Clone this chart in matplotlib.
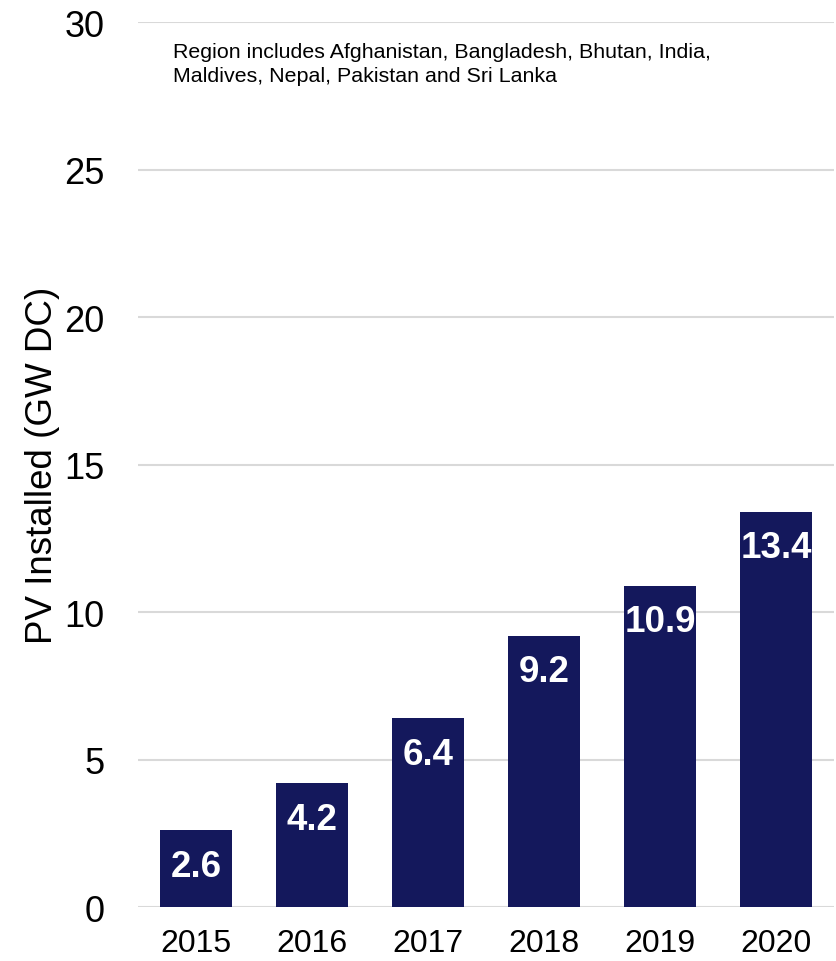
import matplotlib.pyplot as plt

plt.rcParams['font.family'] = ['Liberation Sans', 'DejaVu Sans']

years = ['2015', '2016', '2017', '2018', '2019', '2020']
installed = [2.6, 4.2, 6.4, 9.2, 10.9, 13.4]
yticks = [0, 5, 10, 15, 20, 25, 30]

fig = plt.figure(figsize=(8.36, 9.62), dpi=100)
ax = fig.add_axes([0.165, 0.056, 0.833, 0.92])

bars = ax.bar(range(len(years)), installed, width=0.62, color='#14185c', zorder=3)
for i, v in enumerate(installed):
    ax.annotate(f'{v:.1f}', (i, v), xytext=(0, -26), textcoords='offset points',
                ha='center', va='center', color='white', fontsize=26.5,
                fontweight='bold', zorder=4)

ax.set_xlim(-0.5, len(years) - 0.5)
ax.set_ylim(0, 30)
ax.set_xticks(range(len(years)))
ax.set_xticklabels(years)
ax.set_yticks(yticks)
ax.tick_params(axis='both', length=0)
ax.tick_params(axis='y', pad=24, labelsize=26)
ax.tick_params(axis='x', pad=15, labelsize=23)
ax.grid(axis='y', color='#d9d9d9', lw=1.5, zorder=0)
for s in ax.spines.values():
    s.set_visible(False)

ax.set_ylabel('PV Installed (GW DC)', fontsize=26.5, labelpad=3)

ax.text(0.05, 0.978, 'Region includes Afghanistan, Bangladesh, Bhutan, India,\nMaldives, Nepal, Pakistan and Sri Lanka',
        transform=ax.transAxes, ha='left', va='top', fontsize=15.4, linespacing=1.35)

fig.savefig('out.png', dpi=100)
